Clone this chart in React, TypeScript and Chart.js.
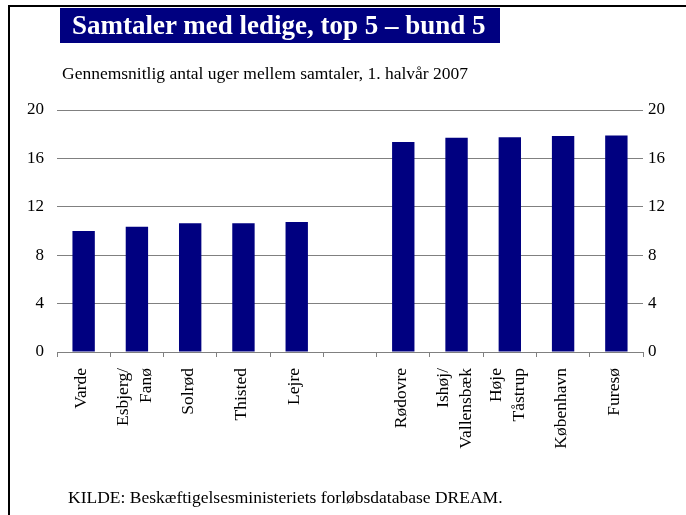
import React, { useEffect, useRef } from 'react';
import { Chart, registerables } from 'chart.js';

Chart.register(...registerables);

const categories: string[][] = [
  ['Varde'],
  ['Esbjerg/', 'Fanø'],
  ['Solrød'],
  ['Thisted'],
  ['Lejre'],
  [''],
  ['Rødovre'],
  ['Ishøj/', 'Vallensbæk'],
  ['Høje', 'Tåstrup'],
  ['København'],
  ['Furesø'],
];
const values: (number | null)[] = [10.0, 10.35, 10.65, 10.65, 10.75, null, 17.35, 17.7, 17.75, 17.85, 17.9];
const yMin = 0;
const yMax = 20;
const yStep = 4;

const titleText = 'Samtaler med ledige, top 5 – bund 5';
const subtitleText = 'Gennemsnitlig antal uger mellem samtaler, 1. halvår 2007';
const sourceText = 'KILDE: Beskæftigelsesministeriets forløbsdatabase DREAM.';

const FONT = '"Liberation Serif", "Times New Roman", serif';
const NAVY = '#000080';
const GRID = '#808080';

const rotatedLabels = {
  id: 'rotatedLabels',
  afterDraw(chart: any) {
    const xs = chart.scales.x;
    const ctx = chart.ctx as CanvasRenderingContext2D;
    ctx.save();
    ctx.font = '17.5px "Liberation Serif"';
    ctx.fillStyle = '#000';
    ctx.textAlign = 'right';
    ctx.textBaseline = 'middle';
    const lh = 23;
    const top = xs.top + 16;
    categories.forEach((lines, i) => {
      const px = xs.getPixelForValue(i);
      lines.forEach((line, j) => {
        const off = (j - (lines.length - 1) / 2) * lh - 2;
        ctx.save();
        ctx.translate(px + off, top);
        ctx.rotate(-Math.PI / 2);
        ctx.fillText(line, 0, 0);
        ctx.restore();
      });
    });
    ctx.restore();
  },
};

export default function App() {
  const ref = useRef<HTMLCanvasElement | null>(null);

  useEffect(() => {
    if (!ref.current) return;
    const tickFont = { family: '"Liberation Serif"', size: 17 };
    const chart = new Chart(ref.current, {
      type: 'bar',
      data: {
        labels: categories.map((c) => c.join(' ')),
        datasets: [
          {
            data: values,
            backgroundColor: NAVY,
            borderWidth: 0,
            categoryPercentage: 1,
            barPercentage: 0.42,
            yAxisID: 'y',
          },
        ],
      },
      options: {
        animation: false,
        responsive: false,
        maintainAspectRatio: false,
        layout: { padding: { top: 110, left: 0, right: 0, bottom: 0 } },
        plugins: {
          legend: { display: false },
          tooltip: { enabled: false },
          title: { display: false },
        },
        scales: {
          x: {
            type: 'category',
            grid: {
              offset: true,
              drawOnChartArea: false,
              drawTicks: true,
              tickLength: 5,
              color: GRID,
            },
            border: { display: true, color: GRID, width: 1 },
            ticks: { display: false },
            afterFit: (s: any) => {
              s.height = 163;
            },
          },
          y: {
            position: 'left',
            min: yMin,
            max: yMax,
            grid: { color: GRID, drawTicks: false, lineWidth: 1 },
            border: { display: false },
            ticks: { stepSize: yStep, font: tickFont, color: '#000', padding: 13 },
            afterFit: (s: any) => {
              s.width = 57;
            },
          },
          y1: {
            position: 'right',
            min: yMin,
            max: yMax,
            grid: { display: false, drawTicks: false },
            border: { display: false },
            ticks: { stepSize: yStep, font: tickFont, color: '#000', padding: 5 },
            afterFit: (s: any) => {
              s.width = 43;
            },
          },
        },
      } as any,
      plugins: [rotatedLabels],
    });
    return () => chart.destroy();
  }, []);

  return (
    <div style={{ position: 'fixed', left: 0, top: 0, width: 686, height: 515, background: '#fff', overflow: 'hidden', fontFamily: FONT }}>
      <canvas ref={ref} width={686} height={515} style={{ position: 'absolute', left: 0, top: 0, width: 686, height: 515 }} />
      <div style={{ position: 'absolute', left: 8, top: 5, width: 2, height: 510, background: '#000' }} />
      <div style={{ position: 'absolute', left: 8, top: 5, width: 678, height: 2, background: '#000' }} />
      <div
        style={{
          position: 'absolute',
          left: 60,
          top: 8,
          width: 440,
          height: 35,
          background: NAVY,
          color: '#fff',
          fontWeight: 'bold',
          fontSize: 27,
          lineHeight: '35px',
          paddingLeft: 12,
          boxSizing: 'border-box',
          whiteSpace: 'nowrap',
        }}
      >
        {titleText}
      </div>
      <div style={{ position: 'absolute', left: 62, top: 63, fontSize: 17.5, lineHeight: '20px', whiteSpace: 'nowrap', color: '#000' }}>
        {subtitleText}
      </div>
      <div style={{ position: 'absolute', left: 68, top: 487, fontSize: 17.5, lineHeight: '20px', whiteSpace: 'nowrap', color: '#000' }}>
        {sourceText}
      </div>
    </div>
  );
}
